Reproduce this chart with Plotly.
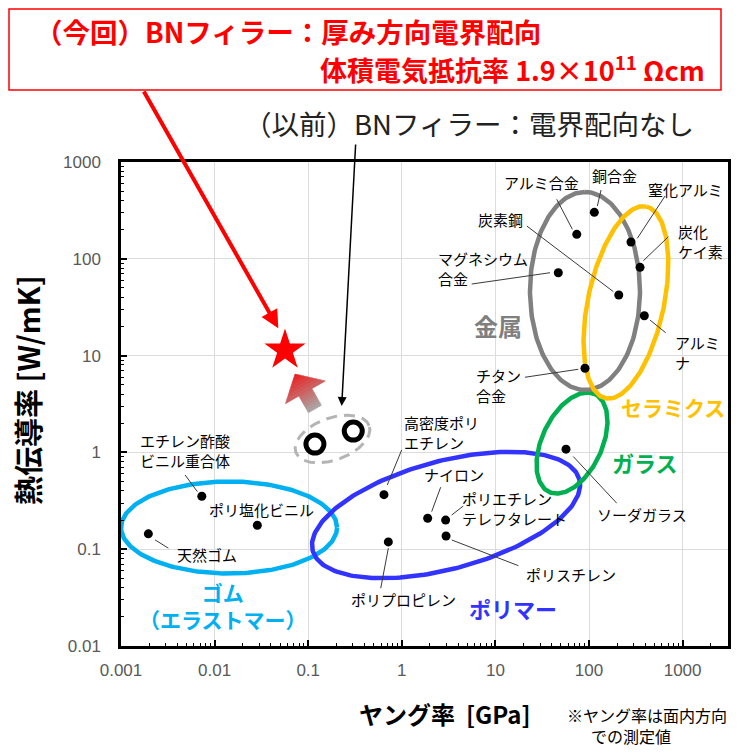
import math
import numpy as np
import plotly.graph_objects as go

# ---------------- data ----------------
material_names = ["天然ゴム", "エチレン酢酸ビニル重合体", "ポリ塩化ビニル", "高密度ポリエチレン",
                  "ポリプロピレン", "ナイロン", "ポリエチレンテレフタレート", "ポリスチレン",
                  "ソーダガラス", "銅合金", "アルミ合金", "窒化アルミ", "炭化ケイ素",
                  "マグネシウム合金", "炭素鋼", "アルミナ", "チタン合金"]
young_modulus_gpa = [0.00196, 0.0073, 0.0286, 0.645, 0.718, 1.89, 2.94, 2.97,
                     56.8, 114, 74, 281, 351, 47, 208, 390, 90.6]
thermal_conductivity = [0.144, 0.352, 0.177, 0.366, 0.119, 0.209, 0.200, 0.137,
                        1.08, 302, 179, 149, 81.6, 71.8, 42.3, 25.8, 7.4]

bn_previous_young = [0.118, 0.303]
bn_previous_tc = [1.22, 1.66]
bn_current_young = [0.0565]
bn_current_tc = [11.4]

x_tick_vals = [0.001, 0.01, 0.1, 1, 10, 100, 1000]
x_tick_text = ["0.001", "0.01", "0.1", "1", "10", "100", "1000"]
y_tick_vals = [0.01, 0.1, 1, 10, 100, 1000]
y_tick_text = ["0.01", "0.1", "1", "10", "100", "1000"]

# group ellipses: (center young, center tc, semi-axis a px, semi-axis b px, angle deg, color, width)
group_ellipses = [
    (0.01426, 0.1675, 108, 46, 0, "#00B0F0", 4.5),
    (2.97, 0.2255, 138, 54, 15, "#3333FF", 4.5),
    (65.8, 1.25, 54, 30, 65, "#00B050", 4.5),
    (90.6, 46.5, 99, 55, 90, "#808080", 4.5),
    (248, 35.4, 98, 38, 78, "#FFC000", 4.5),
]
prev_group = (0.1818, 1.375, 39, 21, 20)

# ---------------- layout geometry ----------------
W, H = 749, 754
ML, MR, MT, MB = 121, 21, 162, 108
PLOT_W = W - ML - MR
PLOT_H = H - MT - MB
XR = [-3.0, 3.485]
YR = [-2.0, 3.0]
PX = PLOT_W / (XR[1] - XR[0])
PY = PLOT_H / (YR[1] - YR[0])
FONT = "Noto Sans CJK JP"


def lg(v):
    return math.log10(v)


def shifted(xv, yv, dx, dy):
    return 10 ** (lg(xv) + dx / PX), 10 ** (lg(yv) - dy / PY)


def paper(px, py):
    return (px - ML) / PLOT_W, (H - MB - py) / PLOT_H


def ellipse(cx, cy, a, b, ang, n=240):
    t = np.linspace(0, 2 * np.pi, n)
    c, s = math.cos(math.radians(ang)), math.sin(math.radians(ang))
    ux = a * np.cos(t) * c - b * np.sin(t) * s
    uy = a * np.cos(t) * s + b * np.sin(t) * c
    return 10 ** (lg(cx) + ux / PX), 10 ** (lg(cy) + uy / PY)


fig = go.Figure()

for cx, cy, a, b, ang, col, w in group_ellipses:
    ex, ey = ellipse(cx, cy, a, b, ang)
    fig.add_trace(go.Scatter(x=ex, y=ey, mode="lines", line=dict(color=col, width=w),
                             hoverinfo="skip", showlegend=False))

ex, ey = ellipse(*prev_group)
fig.add_trace(go.Scatter(x=ex, y=ey, mode="lines",
                         line=dict(color="#B4B4B4", width=3, dash="11px,7px"),
                         hoverinfo="skip", showlegend=False))

# labels: (index, text, anchor, text offset px, leader start px, leader end px)
label_specs = [
    (0, "天然ゴム", "center", (58.4, 21), (6.7, 6), (20, 14.3)),
    (1, "エチレン酢酸<br>ビニル重合体", "left", (-63.4, -45.5), (-4.4, -4.6), (-16.7, -21.3)),
    (2, "ポリ塩化ビニル", "left", (-50.6, -15.3), None, None),
    (3, "高密度ポリ<br>エチレン", "left", (17.7, -61.7), (3.3, -9.7), (17.7, -44.7)),
    (4, "ポリプロピレン", "center", (15, 58), (0, 6.3), (-7.6, 46.3)),
    (5, "ナイロン", "center", (26.6, -43.3), (4, -6.6), (13, -31)),
    (6, "ポリエチレン<br>テレフタレート", "left", (14.3, -11.35), (6, -5), (17.6, -14)),
    (7, "ポリスチレン", "left", (78.3, 39), (5.7, 4), (72.3, 29.7)),
    (8, "ソーダガラス", "center", (75.7, 65.7), (7.3, 7.4), (50.7, 54)),
    (9, "銅合金", "center", (20, -37.3), (3, -6.3), (6.7, -22.3)),
    (10, "アルミ合金", "center", (-35, -51.6), (-4.4, -5), (-20, -35)),
    (11, "窒化アルミ", "center", (54, -52.7), (6.3, -3.7), (34, -46)),
    (12, "炭化<br>ケイ素", "left", (36, -25.6), (3.3, -6.6), (28.3, -30.6)),
    (13, "マグネシウム<br>合金", "left", (-122.3, -4.55), (-8.3, 0), (-86.6, 11.3)),
    (14, "炭素鋼", "center", (-118.7, -75), (-5.4, -3.3), (-92, -69)),
    (15, "アルミ<br>ナ", "left", (28.4, 37.1), (5.7, 4.3), (21.4, 17)),
    (16, "チタン<br>合金", "left", (-111, 17.55), (-6.7, 1), (-60, 9)),
]

lx_, ly_ = [], []
annotations = []
for idx, text, anchor, toff, ls, le in label_specs:
    xv, yv = young_modulus_gpa[idx], thermal_conductivity[idx]
    if ls is not None:
        x0, y0 = shifted(xv, yv, *ls)
        x1, y1 = shifted(xv, yv, *le)
        lx_ += [x0, x1, None]
        ly_ += [y0, y1, None]
    annotations.append(dict(x=lg(xv) + toff[0] / PX, y=lg(yv) - toff[1] / PY, xref="x", yref="y",
                            text=text, showarrow=False, xanchor=anchor, yanchor="middle",
                            align="left", font=dict(family=FONT, size=15, color="black")))

fig.add_trace(go.Scatter(x=lx_, y=ly_, mode="lines", line=dict(color="#3a3a3a", width=1),
                         hoverinfo="skip", showlegend=False))

fig.add_trace(go.Scatter(x=young_modulus_gpa, y=thermal_conductivity, mode="markers",
                         marker=dict(color="black", size=9), text=material_names,
                         showlegend=False))

# gradient block arrow (gray -> red) from previous BN to current BN
base_x, base_y = shifted(bn_previous_young[0], bn_previous_tc[0], 0, -35)
tip_x, tip_y = shifted(bn_current_young[0], bn_current_tc[0], 10, 24)
dxp = (lg(tip_x) - lg(base_x)) * PX
dyp = (lg(tip_y) - lg(base_y)) * PY
Lg = math.hypot(dxp, dyp)
ux, uy = dxp / Lg, dyp / Lg
nx, ny = -uy, ux
head_len, head_hw, shaft_hw = 21, 23, 7.5
h0 = Lg - head_len


def apt(t, w):
    px = t * ux + w * nx
    py = t * uy + w * ny
    return 10 ** (lg(base_x) + px / PX), 10 ** (lg(base_y) + py / PY)


def colr(f):
    c0 = np.array([168, 168, 168])
    c1 = np.array([236, 28, 28])
    c = c0 + (c1 - c0) * f
    return "rgb(%d,%d,%d)" % tuple(c.astype(int))


segs = []
ns = 8
for i in range(ns):
    t0, t1 = h0 * i / ns, h0 * (i + 1) / ns
    segs.append((t0, t1, shaft_hw, shaft_hw))
nh = 7
for i in range(nh):
    t0 = h0 + head_len * i / nh
    t1 = h0 + head_len * (i + 1) / nh
    segs.append((t0, t1, head_hw * (Lg - t0) / head_len, head_hw * (Lg - t1) / head_len))
for t0, t1, w0, w1 in segs:
    pts = [apt(t0, -w0), apt(t0, w0), apt(t1, w1), apt(t1, -w1), apt(t0, -w0)]
    col = colr(((t0 + t1) / 2) / Lg)
    fig.add_trace(go.Scatter(x=[p[0] for p in pts], y=[p[1] for p in pts], mode="lines",
                             fill="toself", fillcolor=col, line=dict(color=col, width=0.6),
                             hoverinfo="skip", showlegend=False))

fig.add_trace(go.Scatter(x=bn_previous_young, y=bn_previous_tc, mode="markers",
                         marker=dict(symbol="circle-open", size=18, color="black",
                                     line=dict(width=5, color="black")),
                         showlegend=False))
fig.add_trace(go.Scatter(x=bn_current_young, y=bn_current_tc, mode="markers",
                         marker=dict(symbol="star", size=31, color="#FF0000",
                                     line=dict(width=0)),
                         showlegend=False))


# group labels
def group_label(text, px, py, color, size):
    x, y = paper(px, py)
    annotations.append(dict(x=x, y=y, xref="paper", yref="paper", text=text,
                            showarrow=False, xanchor="center", yanchor="middle", align="center",
                            font=dict(family=FONT, size=size, color=color)))


group_label("<b>金属</b>", 498, 325, "#7F7F7F", 24)
group_label("<b>セラミクス</b>", 673, 407, "#FFC000", 21)
group_label("<b>ガラス</b>", 645, 462, "#00B050", 22)
group_label("<b>ポリマー</b>", 513, 608, "#3333FF", 22)
group_label("<b>ゴム</b><br><b>（エラストマー）</b>", 223, 605.5, "#00B0F0", 21)

# title box and texts
bx0, by0 = paper(9, 90)
bx1, by1 = paper(721, 9)
shapes = [dict(type="rect", xref="paper", yref="paper", x0=bx0, y0=by0, x1=bx1, y1=by1,
               line=dict(color="#FF0000", width=1.5), fillcolor="white", layer="below")]

x, y = paper(33, 31.5)
annotations.append(dict(x=x, y=y, xref="paper", yref="paper",
                        text="<b>（今回）BNフィラー：厚み方向電界配向</b>", showarrow=False,
                        xanchor="left", yanchor="middle",
                        font=dict(family=FONT, size=27.5, color="#FF0000")))
x, y = paper(318, 68)
annotations.append(dict(x=x, y=y, xref="paper", yref="paper",
                        text="<b>体積電気抵抗率 1.9×10<sup>11</sup> Ωcm</b>", showarrow=False,
                        xanchor="left", yanchor="middle",
                        font=dict(family=FONT, size=27, color="#FF0000")))
x, y = paper(468.5, 123)
annotations.append(dict(x=x, y=y, xref="paper", yref="paper",
                        text="（以前）BNフィラー：電界配向なし", showarrow=False,
                        xanchor="center", yanchor="middle",
                        font=dict(family=FONT, size=27.5, color="#222222")))

# arrows
x, y = paper(278.3, 328.3)
annotations.append(dict(x=x, y=y, xref="paper", yref="paper", text="", showarrow=True,
                        ax=143 - 278.3, ay=90 - 328.3, arrowhead=2, arrowsize=0.9,
                        arrowwidth=4, arrowcolor="#FF0000"))
x, y = paper(341.7, 406)
annotations.append(dict(x=x, y=y, xref="paper", yref="paper", text="", showarrow=True,
                        ax=355.7 - 341.7, ay=143 - 406, arrowhead=2, arrowsize=1.2,
                        arrowwidth=1.5, arrowcolor="black"))

# axis titles and footnote
x, y = paper(27, 390)
annotations.append(dict(x=x, y=y, xref="paper", yref="paper", text="<b>熱伝導率 [W/mK]</b>",
                        showarrow=False, textangle=-90, xanchor="center", yanchor="middle",
                        font=dict(family=FONT, size=29, color="black")))
x, y = paper(444, 713)
annotations.append(dict(x=x, y=y, xref="paper", yref="paper", text="<b>ヤング率  [GPa]</b>",
                        showarrow=False, xanchor="center", yanchor="middle",
                        font=dict(family=FONT, size=24, color="black")))
x, y = paper(565, 725)
annotations.append(dict(x=x, y=y, xref="paper", yref="paper",
                        text="※ヤング率は面内方向<br>\u3000\u2002での測定値",
                        showarrow=False, xanchor="left", yanchor="middle", align="left",
                        font=dict(family=FONT, size=16, color="black")))

axis_common = dict(type="log", ticks="inside", ticklen=6, tickwidth=1.5, tickcolor="black",
                   showline=True, linecolor="black", linewidth=2.5, mirror=True,
                   showgrid=True, gridcolor="#DCDCDC", gridwidth=1, zeroline=False,
                   tickfont=dict(family="Liberation Sans, Arial", size=17, color="#595959"),
                   minor=dict(ticks="inside", ticklen=3.5, tickwidth=1, tickcolor="black",
                              dtick="D1", showgrid=False))

fig.update_layout(
    width=W, height=H, autosize=False,
    margin=dict(l=ML, r=MR, t=MT, b=MB, pad=0),
    paper_bgcolor="white", plot_bgcolor="white",
    xaxis=dict(range=XR, tickmode="array", tickvals=x_tick_vals, ticktext=x_tick_text,
               ticklabelstandoff=7, **axis_common),
    yaxis=dict(range=YR, tickmode="array", tickvals=y_tick_vals, ticktext=y_tick_text,
               ticklabelstandoff=14, **axis_common),
    shapes=shapes, annotations=annotations, showlegend=False,
    font=dict(family=FONT),
)

fig.write_html("out.html", config={"displayModeBar": False},
               post_script="document.body.style.margin='0px';document.body.style.padding='0px';")
